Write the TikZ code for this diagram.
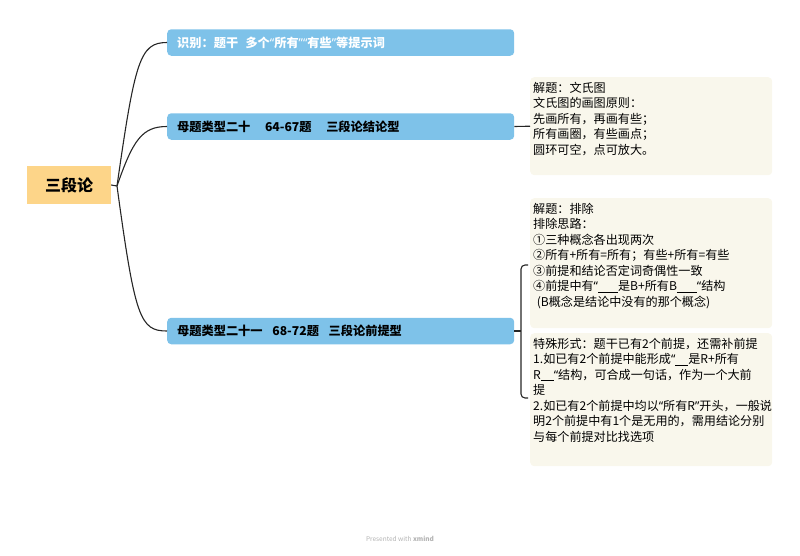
\documentclass[tikz,border=0pt]{standalone}
\usepackage{fontspec}
\setmainfont{Noto Sans CJK SC}
\newfontfamily\latinfont{Noto Sans}
\usetikzlibrary{calc}
\definecolor{rootorange}{RGB}{253,213,137}
\definecolor{branchblue}{RGB}{126,194,233}
\definecolor{notecream}{RGB}{249,247,236}
\newcommand{\oq}{{\latinfont “}}
\newcommand{\cq}{{\latinfont ”}}
\newcommand{\blank}[1]{\rule[-1.6pt]{#1}{0.7pt}}
\tikzset{
	link/.style={line width=1.1pt, color=black!85},
	topicbox/.style={fill=rootorange, minimum width=84pt, minimum height=38pt, inner sep=0pt, font=\bfseries\fontsize{16}{18}\selectfont},
	branchbox/.style={fill=branchblue, rounded corners=4pt, anchor=west, minimum width=347pt, minimum height=26.5pt, inner sep=0pt},
	branchtext/.style={anchor=west, inner sep=0pt, font=\bfseries\fontsize{12.2}{14}\selectfont},
	notebox/.style={fill=notecream, rounded corners=4pt, anchor=north west, minimum width=242pt, inner sep=0pt},
	notetext/.style={anchor=north west, inner sep=0pt, align=left, font=\fontsize{12.1}{15.5}\selectfont}
}
\begin{document}
\begin{tikzpicture}[x=1pt, y=-1pt]
			%%%%% START %%%%%
			\useasboundingbox (0,0) rectangle (800,555);
			
			\node[topicbox] (root) at (69,185) {三段论};
			\coordinate (hub) at (117,186);
			
			\node[branchbox] (br1) at (167,42.5) {};
			\node[branchtext, white] at (177,42.5) {识别：题干\hspace{0.6em}多个\oq 所有\cq\oq 有些\cq 等提示词};
			
			\node[branchbox] (br2) at (167,126.5) {};
			\node[branchtext] at (177,126.5) {母题类型二十\hspace{1.2em}64-67题\hspace{1.2em}三段论结论型};
			
			\node[branchbox] (br3) at (167,331) {};
			\node[branchtext] at (177,331) {母题类型二十一\hspace{0.8em}68-72题\hspace{0.8em}三段论前提型};
			
			\node[notebox, minimum height=98pt] (note1) at (530,77) {};
			\node[notetext] at (533,82) {解题：文氏图\\文氏图的画图原则：\\先画所有，再画有些；\\所有画圈，有些画点；\\圆环可空，点可放大。};
			
			\node[notebox, minimum height=130pt] (note2) at (530,198) {};
			\node[notetext] at (533,203) {解题：排除\\排除思路：\\①三种概念各出现两次\\②所有+所有=所有；有些+所有=有些\\③前提和结论否定词奇偶性一致\\④前提中有\oq\blank{20pt}是B+所有B\blank{20pt}\oq 结构\\\hspace{0.3em}(B概念是结论中没有的那个概念)};
			
			\node[notebox, minimum height=133pt] (note3) at (530,333) {};
			\node[notetext] at (533,338) {特殊形式：题干已有2个前提，还需补前提\\1.如已有2个前提中能形成\oq\blank{13pt}是R+所有\\R\blank{13pt}\oq 结构，可合成一句话，作为一个大前\\提\\2.如已有2个前提中均以\oq 所有R\cq 开头，一般说\\明2个前提中有1个是无用的，需用结论分别\\与每个前提对比找选项};
			
			% connectors
			\draw[link] (root.east) -- (hub);
			\draw[link] (hub) .. controls (135,60) and (140,42.5) .. (br1.west);
			\draw[link] (hub) .. controls (133,140) and (142,126.5) .. (br2.west);
			\draw[link] (hub) .. controls (135,318) and (140,331) .. (br3.west);
			\draw[link] (br2.east) -- (note1.west);
			\coordinate (brk) at (521,331);
			\draw[link] (br3.east) -- (brk);
			\draw[link, rounded corners=4pt] (528,265) -- (521,265) -- (521,398) -- (528,398);
			
			\node[color=black!30, font=\fontsize{6.5}{8}\selectfont] (credit) at (400,539) {Presented with \textbf{xmind}};
			%%%%% END %%%%%
		\end{tikzpicture}
\end{document}
